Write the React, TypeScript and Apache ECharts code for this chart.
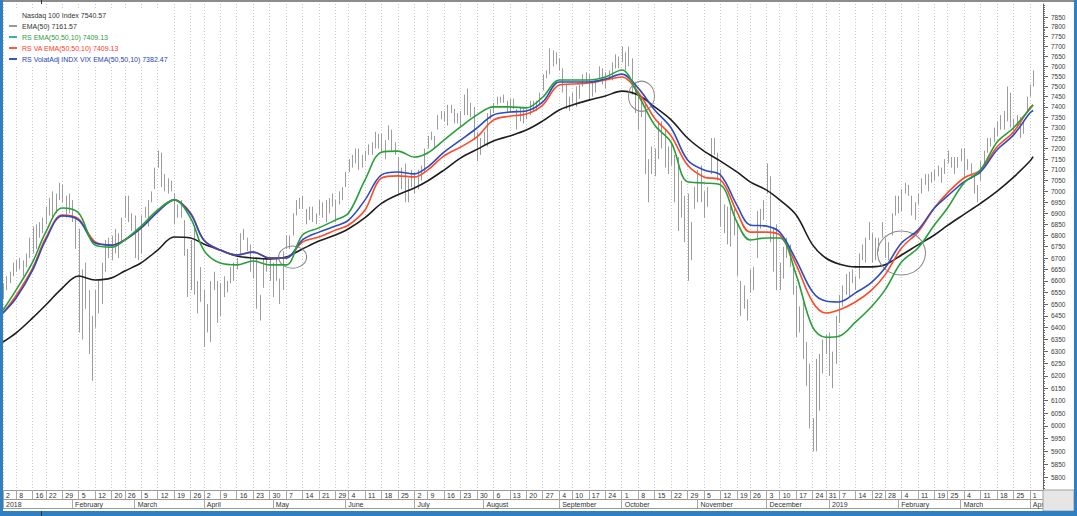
import React, { useEffect, useRef } from "react";
import * as echarts from "echarts";

// ---------- axis categories (trading days) ----------
const FIRST_DAY = "2018-01-02";
const LAST_DAY = "2019-04-05";
const HOLIDAYS = [
  "2018-01-15", "2018-02-19", "2018-03-30", "2018-05-28", "2018-07-04", "2018-09-03",
  "2018-11-22", "2018-12-05", "2018-12-25", "2019-01-01", "2019-01-21", "2019-02-18",
];
const MONTH_NAMES = [
  "January", "February", "March", "April", "May", "June",
  "July", "August", "September", "October", "November", "December",
];

function buildTradingDays(first: string, last: string, holidays: string[]): string[] {
  const out: string[] = [];
  const d = new Date(first + "T00:00:00Z");
  const end = new Date(last + "T00:00:00Z");
  while (d <= end) {
    const s = d.toISOString().slice(0, 10);
    const w = d.getUTCDay();
    if (w !== 0 && w !== 6 && holidays.indexOf(s) < 0) out.push(s);
    d.setUTCDate(d.getUTCDate() + 1);
  }
  return out;
}
const categories = buildTradingDays(FIRST_DAY, LAST_DAY, HOLIDAYS);

// ---------- daily price bars (low / high) ----------
const barLow = [
  6520, 6560, 6590, 6620, 6640, 6650, 6620, 6660, 6700, 6720,
  6740, 6790, 6810, 6850, 6890, 6880, 6900, 6960, 6950, 6880,
  6900, 6860, 6740, 6380, 6350, 6480, 6290, 6180, 6400, 6460,
  6500, 6640, 6700, 6690, 6720, 6700, 6770, 6880, 6860, 6820,
  6700, 6690, 6720, 6880, 6840, 6950, 7010, 7110, 7020, 7000,
  6990, 7000, 6850, 6880, 6880, 6710, 6530, 6560, 6540, 6460,
  6510, 6320, 6380, 6340, 6560, 6420, 6450, 6530, 6550, 6590,
  6600, 6650, 6720, 6780, 6730, 6640, 6610, 6480, 6430, 6570,
  6640, 6600, 6530, 6600, 6500, 6560, 6740, 6740, 6800, 6890,
  6920, 6920, 6850, 6870, 6860, 6850, 6890, 6880, 6860, 6900,
  6930, 6860, 6940, 6960, 7020, 7090, 7110, 7130, 7100, 7110,
  7140, 7170, 7170, 7200, 7200, 7180, 7150, 7240, 7190, 7170,
  6990, 7010, 6950, 6950, 7020, 6990, 7010, 7050, 7090, 7200,
  7240, 7200, 7290, 7340, 7330, 7310, 7370, 7320, 7320, 7300,
  7360, 7360, 7350, 7240, 7140, 7170, 7220, 7210, 7340, 7370,
  7410, 7420, 7420, 7370, 7370, 7390, 7290, 7330, 7320, 7340,
  7360, 7380, 7380, 7410, 7480, 7540, 7560, 7600, 7610, 7580,
  7470, 7390, 7380, 7420, 7400, 7440, 7500, 7520, 7430, 7450,
  7470, 7540, 7510, 7490, 7530, 7530, 7590, 7590, 7620, 7580,
  7600, 7460, 7370, 7290, 7350, 7080, 6950, 7080, 7070, 7150,
  7200, 7110, 7080, 7120, 6950, 6820, 6880, 6770, 6600, 6690,
  6920, 6950, 6950, 6880, 6930, 7080, 7170, 7050, 6840, 6810,
  6760, 6750, 6800, 6620, 6450, 6480, 6430, 6550, 6560, 6700,
  6830, 6870, 6990, 6770, 6640, 6560, 6560, 6610, 6700, 6660,
  6540, 6360, 6380, 6270, 6160, 5990, 5900, 5900, 6060, 6210,
  6290, 6200, 6150, 6250, 6420, 6490, 6540, 6530, 6590, 6560,
  6610, 6690, 6680, 6780, 6680, 6690, 6730, 6790, 6700, 6690,
  6800, 6890, 6900, 6910, 6990, 6980, 6890, 6870, 6940, 6990,
  7030, 7000, 7040, 7050, 7070, 7040, 7080, 7130, 7110, 7080,
  7110, 7140, 7060, 7100, 7060, 6990, 6950, 7050, 7130, 7180,
  7210, 7230, 7260, 7290, 7290, 7330, 7300, 7270, 7300, 7250,
  7270, 7380, 7450, 7500,
];
const barHigh = [
  6590, 6620, 6640, 6680, 6690, 6700, 6690, 6720, 6790, 6840,
  6850, 6860, 6880, 6930, 6970, 7000, 6990, 7040, 7030, 6980,
  6990, 6960, 6880, 6830, 6650, 6680, 6560, 6450, 6560, 6600,
  6680, 6780, 6790, 6800, 6830, 6810, 6880, 6980, 6980, 6900,
  6890, 6820, 6890, 6930, 6960, 7000, 7110, 7190, 7180, 7080,
  7060, 7050, 6990, 6940, 6960, 6870, 6740, 6780, 6840, 6600,
  6660, 6560, 6500, 6600, 6640, 6600, 6590, 6620, 6600, 6660,
  6680, 6700, 6810, 6830, 6790, 6760, 6700, 6700, 6540, 6700,
  6700, 6700, 6680, 6700, 6610, 6730, 6800, 6800, 6900, 6960,
  6970, 6980, 6920, 6930, 6930, 6900, 6960, 6950, 6960, 6970,
  6990, 6960, 7000, 7020, 7090, 7150, 7170, 7200, 7200, 7170,
  7190, 7220, 7230, 7280, 7270, 7270, 7240, 7310, 7290, 7230,
  7160, 7110, 7130, 7060, 7100, 7080, 7100, 7120, 7200, 7260,
  7280, 7260, 7360, 7380, 7380, 7410, 7410, 7390, 7370, 7380,
  7460, 7490, 7420, 7400, 7280, 7250, 7280, 7370, 7390, 7420,
  7450, 7450, 7460, 7430, 7440, 7440, 7390, 7400, 7390, 7390,
  7430, 7430, 7430, 7470, 7560, 7580, 7690, 7680, 7670, 7640,
  7590, 7510, 7450, 7470, 7500, 7510, 7560, 7570, 7560, 7520,
  7530, 7600, 7590, 7570, 7580, 7620, 7660, 7650, 7700, 7670,
  7700, 7640, 7520, 7450, 7450, 7420, 7150, 7210, 7200, 7330,
  7330, 7290, 7210, 7230, 7170, 7160, 7050, 6980, 6990, 6860,
  7020, 7100, 7120, 7000, 7020, 7250, 7250, 7180, 7100, 6940,
  6930, 6930, 6920, 6860, 6600, 6580, 6520, 6650, 6660, 6910,
  6920, 6960, 7130, 7070, 6830, 6850, 6680, 6750, 6790, 6760,
  6660, 6580, 6490, 6510, 6340, 6250, 6030, 6270, 6290, 6350,
  6370, 6380, 6300, 6450, 6540, 6580, 6630, 6640, 6650, 6620,
  6720, 6760, 6790, 6860, 6810, 6790, 6790, 6860, 6790, 6770,
  6900, 6980, 6980, 7010, 7040, 7030, 6980, 6950, 6990, 7060,
  7080, 7080, 7090, 7100, 7120, 7110, 7150, 7190, 7160, 7160,
  7160, 7200, 7200, 7150, 7130, 7070, 7030, 7140, 7190, 7250,
  7250, 7300, 7330, 7360, 7380, 7500, 7470, 7340, 7360, 7350,
  7330, 7450, 7510, 7580,
];

// ---------- indicator lines (weekly readings) ----------
const lineDates = [
  "2018-01-02", "2018-01-08", "2018-01-16", "2018-01-22", "2018-01-29", "2018-02-05", "2018-02-12", "2018-02-20", "2018-02-26", "2018-03-05",
  "2018-03-12", "2018-03-19", "2018-03-26", "2018-04-02", "2018-04-09", "2018-04-16", "2018-04-23", "2018-04-30", "2018-05-07", "2018-05-14",
  "2018-05-21", "2018-05-29", "2018-06-04", "2018-06-11", "2018-06-18", "2018-06-25", "2018-07-02", "2018-07-09", "2018-07-16", "2018-07-23",
  "2018-07-30", "2018-08-06", "2018-08-13", "2018-08-20", "2018-08-27", "2018-09-04", "2018-09-10", "2018-09-17", "2018-09-24", "2018-10-01",
  "2018-10-08", "2018-10-15", "2018-10-22", "2018-10-29", "2018-11-05", "2018-11-12", "2018-11-19", "2018-11-26", "2018-12-03", "2018-12-10",
  "2018-12-17", "2018-12-24", "2018-12-31", "2019-01-07", "2019-01-14", "2019-01-22", "2019-01-28", "2019-02-04", "2019-02-11", "2019-02-19",
  "2019-02-25", "2019-03-04", "2019-03-11", "2019-03-18", "2019-03-25", "2019-04-01", "2019-04-02",
];
const ema50 = [
  6340, 6378, 6441, 6496, 6569, 6621, 6604, 6613, 6643, 6679,
  6735, 6793, 6789, 6762, 6735, 6709, 6700, 6696, 6704, 6740,
  6775, 6802, 6830, 6880, 6945, 6985, 7016, 7048, 7099, 7155,
  7196, 7236, 7260, 7288, 7332, 7385, 7409, 7433, 7453, 7477,
  7458, 7400, 7337, 7250, 7188, 7141, 7090, 7044, 7006, 6961,
  6892, 6758, 6700, 6674, 6661, 6661, 6670, 6713, 6758, 6802,
  6845, 6895, 6945, 7000, 7065, 7140, 7161.57,
];
const rsEma = [
  6474, 6561, 6682, 6815, 6924, 6901, 6757, 6748, 6780, 6842,
  6915, 6961, 6878, 6735, 6678, 6670, 6687, 6670, 6670, 6802,
  6834, 6869, 6901, 7053, 7183, 7188, 7160, 7179, 7240, 7303,
  7361, 7400, 7400, 7395, 7448, 7532, 7532, 7532, 7547, 7582,
  7458, 7312, 7230, 7044, 7039, 7030, 6860, 6780, 6789, 6789,
  6626, 6402, 6360, 6364, 6423, 6491, 6561, 6682, 6744, 6847,
  6924, 7039, 7099, 7230, 7298, 7390, 7409.13,
];
const rsVaEma = [
  6462, 6537, 6656, 6789, 6892, 6874, 6771, 6757, 6780, 6834,
  6906, 6961, 6901, 6780, 6735, 6713, 6726, 6700, 6700, 6771,
  6793, 6824, 6847, 6915, 7062, 7072, 7067, 7099, 7165, 7207,
  7255, 7336, 7355, 7365, 7409, 7507, 7512, 7517, 7532, 7547,
  7472, 7345, 7260, 7122, 7067, 7053, 6906, 6815, 6815, 6802,
  6670, 6509, 6462, 6475, 6509, 6561, 6626, 6744, 6815, 6924,
  6993, 7062, 7099, 7207, 7279, 7395, 7409.13,
];
const rsVixEma = [
  6462, 6526, 6647, 6780, 6888, 6869, 6766, 6757, 6780, 6834,
  6906, 6961, 6897, 6780, 6735, 6713, 6726, 6700, 6700, 6780,
  6815, 6842, 6869, 6961, 7076, 7090, 7081, 7113, 7183, 7240,
  7298, 7361, 7375, 7380, 7424, 7522, 7522, 7522, 7537, 7561,
  7492, 7385, 7298, 7146, 7099, 7076, 6937, 6847, 6842, 6815,
  6691, 6552, 6513, 6509, 6548, 6595, 6656, 6766, 6824, 6924,
  6979, 7044, 7090, 7193, 7264, 7370, 7382.47,
];

// ---------- legend ----------
const legendNames = [
  "Nasdaq 100 Index",
  "EMA(50)",
  "RS EMA(50,50,10)",
  "RS VA EMA(50,50,10)",
  "RS VolatAdj INDX VIX EMA(50,50,10)",
];
const legendValues = ["7540.57", "7161.57", "7409.13", "7409.13", "7382.47"];

// ---------- y axis tick labels ----------
const yTickValues = [
  5800, 5850, 5900, 5950, 6000, 6050, 6100, 6150, 6200, 6250, 6300, 6350, 6400, 6450,
  6500, 6550, 6600, 6650, 6700, 6750, 6800, 6850, 6900, 6950, 7000, 7050, 7100, 7150,
  7200, 7250, 7300, 7350, 7400, 7450, 7500, 7550, 7600, 7650, 7700, 7750, 7800, 7850,
];

// ---------- annotation ellipses ----------
const annotationDates = ["2018-05-09", "2018-10-09", "2019-02-04"];
const annotationValues = [6704, 7452, 6722];

// ---------- styles ----------
const FONT = "Liberation Sans, Arial, sans-serif";
const Y_MIN = 5752;
const Y_MAX = 7918;
const COLORS = { bar: "#9d9d9d", ema: "#1e1e1e", green: "#27a03a", red: "#ff4a26", blue: "#2d4cc2" };

const dayOfWeek = (s: string) => new Date(s + "T00:00:00Z").getUTCDay();
const isWeekStart = categories.map((d, i) => i === 0 || dayOfWeek(d) <= dayOfWeek(categories[i - 1]));
const isMonthStart = categories.map((d, i) => i === 0 || d.slice(5, 7) !== categories[i - 1].slice(5, 7));
const weekInterval = (index: number) => !!isWeekStart[index];
const monthInterval = (index: number) => !!isMonthStart[index];

export default function App() {
  const ref = useRef<HTMLDivElement>(null);

  useEffect(() => {
    document.body.style.margin = "0";
    if (!ref.current) return;
    const chart = echarts.init(ref.current, undefined, { renderer: "svg" });

    const minorTicks: number[] = [];
    for (let v = 5760; v <= 7910; v += 10) minorTicks.push(v);

    const lineData = (vals: number[]) => lineDates.map((d, k) => [categories.indexOf(d), vals[k]]);
    const lineSeries = (name: string, vals: number[], color: string, z: number, extra: any = {}) => ({
      name,
      type: "line",
      data: lineData(vals),
      showSymbol: false,
      smooth: 0.35,
      lineStyle: { color, width: 1.6 },
      itemStyle: { color },
      z,
      ...extra,
    });

    const legendText = ["#333", "#333", "#2f9a3c", "#ff3b1f", "#2a3fb5"];
    const legendIcon = [COLORS.bar, "#9a9a9a", "#3bb39c", "#ff5a40", "#3a55c8"];

    const option: any = {
      animation: false,
      backgroundColor: "#ffffff",
      grid: { left: 3, right: 34, top: 4, bottom: 26, containLabel: false },
      legend: {
        orient: "vertical",
        left: 4,
        top: 8,
        itemWidth: 8,
        itemHeight: 2,
        itemGap: 3,
        icon: "rect",
        selectedMode: false,
        backgroundColor: "#ffffff",
        padding: [3, 5, 3, 5],
        textStyle: { fontSize: 7, fontFamily: FONT, lineHeight: 8 },
        formatter: (name: string) => `${name} ${legendValues[legendNames.indexOf(name)]}`,
        data: legendNames.map((n, k) => ({
          name: n,
          itemStyle: k === 0 ? { color: "#ffffff", opacity: 0 } : { color: legendIcon[k] },
          textStyle: { color: legendText[k] },
        })),
      },
      xAxis: [
        {
          type: "category",
          data: categories,
          boundaryGap: false,
          position: "bottom",
          axisLine: { show: true, lineStyle: { color: "#9a9a9a", width: 1 } },
          axisTick: { show: true, interval: weekInterval, length: 9, lineStyle: { color: "#a8a8a8" } },
          axisLabel: {
            interval: weekInterval,
            formatter: (v: string) => String(Number(v.slice(8, 10))),
            fontSize: 7,
            fontFamily: FONT,
            color: "#333",
            align: "left",
            margin: 2,
            padding: [0, 0, 0, 3],
          },
          splitLine: { show: true, interval: weekInterval, lineStyle: { color: "#c9c9c9", width: 1, type: [1, 2] } },
        },
        {
          type: "category",
          data: categories,
          boundaryGap: false,
          position: "bottom",
          offset: 9,
          axisLine: { show: true, lineStyle: { color: "#9a9a9a", width: 1 } },
          axisTick: { show: true, interval: monthInterval, length: 9, lineStyle: { color: "#a8a8a8" } },
          axisLabel: {
            interval: monthInterval,
            formatter: (v: string) => (v.slice(5, 7) === "01" ? v.slice(0, 4) : MONTH_NAMES[Number(v.slice(5, 7)) - 1]),
            fontSize: 7,
            fontFamily: FONT,
            color: "#333",
            align: "left",
            margin: 2,
            padding: [0, 0, 0, 3],
          },
          splitLine: { show: false },
        },
        {
          type: "category",
          data: categories,
          boundaryGap: false,
          position: "bottom",
          offset: 18,
          axisLine: { show: true, lineStyle: { color: "#9a9a9a", width: 1 } },
          axisTick: { show: false },
          axisLabel: { show: false },
          splitLine: { show: false },
        },
      ],
      yAxis: [
        {
          type: "log",
          logBase: 10,
          min: Y_MIN,
          max: Y_MAX,
          position: "right",
          axisLine: { show: true, lineStyle: { color: "#666" } },
          axisTick: { show: true, customValues: minorTicks, length: 2, inside: false, lineStyle: { color: "#666" } },
          axisLabel: { show: false },
          splitLine: { show: false },
        },
        {
          type: "log",
          logBase: 10,
          min: Y_MIN,
          max: Y_MAX,
          position: "right",
          axisLine: { show: false },
          axisTick: { show: true, customValues: yTickValues, length: 5, lineStyle: { color: "#666" } },
          axisLabel: {
            show: true,
            customValues: yTickValues,
            formatter: (v: number) => String(Math.round(v)),
            fontSize: 6.5,
            fontFamily: FONT,
            color: "#3a3a3a",
            margin: 8,
          },
          splitLine: { show: false },
        },
      ],
      series: [
        {
          name: legendNames[0],
          type: "custom",
          xAxisIndex: 0,
          yAxisIndex: 0,
          data: barLow.map((lo, i) => [i, lo, barHigh[i]]),
          encode: { x: 0, y: [1, 2] },
          itemStyle: { color: COLORS.bar },
          z: 1,
          renderItem: (params: any, api: any) => {
            const i = api.value(0);
            const p1 = api.coord([i, api.value(1)]);
            const p2 = api.coord([i, api.value(2)]);
            const x = Math.round(p1[0]) + 0.5;
            return {
              type: "line",
              shape: { x1: x, y1: p1[1], x2: x, y2: p2[1] },
              style: { stroke: COLORS.bar, lineWidth: 1 },
            };
          },
        },
        lineSeries(legendNames[1], ema50, COLORS.ema, 3, {
          markPoint: {
            symbol: "circle",
            label: { show: false },
            silent: true,
            data: annotationDates.map((d, k) => ({
              coord: [categories.indexOf(d), annotationValues[k]],
              symbolSize: [[28, 22], [26, 30], [48, 44]][k],
              itemStyle: { color: "rgba(0,0,0,0)", borderColor: "#8a8a8a", borderWidth: 1 },
            })),
          },
        }),
        lineSeries(legendNames[3], rsVaEma, COLORS.red, 4),
        lineSeries(legendNames[4], rsVixEma, COLORS.blue, 5),
        lineSeries(legendNames[2], rsEma, COLORS.green, 6),
      ],
      graphic: [
        { type: "rect", z: 100, shape: { x: 1043, y: 490, width: 31, height: 21 }, style: { fill: "#e6e6e6", stroke: "#a0a0a0", lineWidth: 1 } },
        { type: "rect", z: 100, shape: { x: 0, y: 0, width: 1077, height: 2 }, style: { fill: "#8c8c8c" } },
        { type: "rect", z: 100, shape: { x: 0, y: 0, width: 3, height: 516 }, style: { fill: "#2f80c3" } },
        { type: "rect", z: 100, shape: { x: 1074, y: 0, width: 3, height: 516 }, style: { fill: "#2f80c3" } },
        { type: "rect", z: 100, shape: { x: 0, y: 511, width: 1077, height: 5 }, style: { fill: "#2f80c3" } },
        { type: "line", z: 101, shape: { x1: 41.5, y1: 0, x2: 41.5, y2: 4 }, style: { stroke: "#333", lineWidth: 1 } },
        { type: "line", z: 101, shape: { x1: 41.5, y1: 511, x2: 41.5, y2: 516 }, style: { stroke: "#333", lineWidth: 1 } },
      ],
    };

    chart.setOption(option);
    return () => chart.dispose();
  }, []);

  return <div ref={ref} style={{ width: 1077, height: 516, position: "absolute", left: 0, top: 0 }} />;
}
